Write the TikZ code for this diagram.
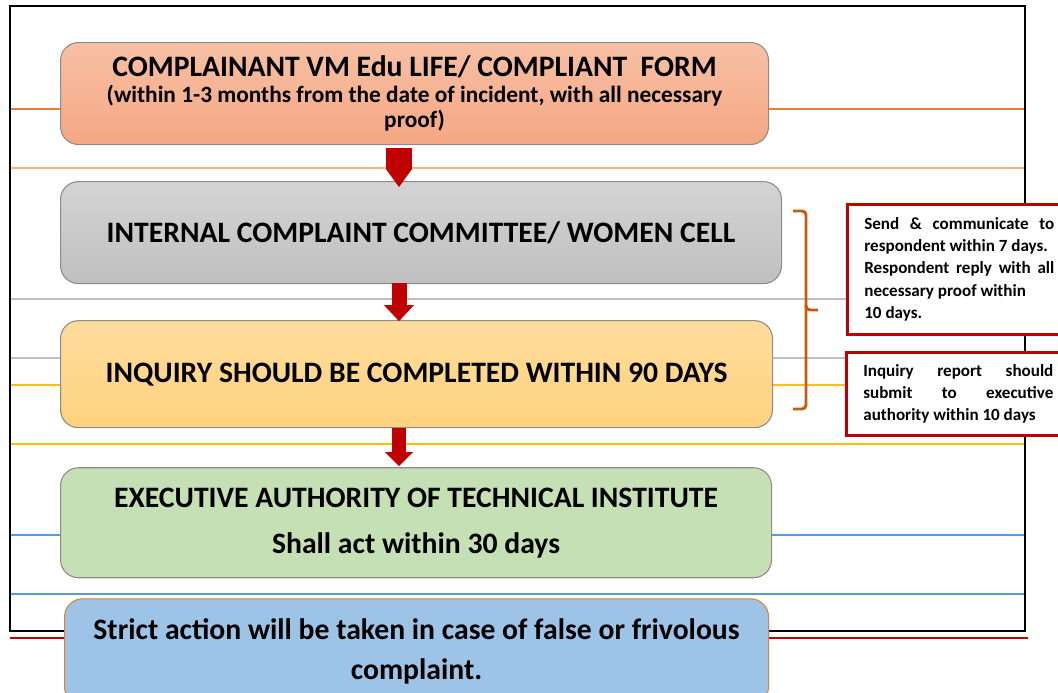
\documentclass[tikz,border=0pt]{standalone}
\usepackage{fontspec}
\setmainfont{Carlito}
\usetikzlibrary{positioning}
\usetikzlibrary{arrows.meta}
\usetikzlibrary{calc}

\definecolor{arrowred}{HTML}{C00000}
\definecolor{boxgray}{HTML}{8C8C8C}
\definecolor{bracecol}{HTML}{C55A11}
\definecolor{orangeline}{HTML}{ED7D31}
\definecolor{peachline}{HTML}{F4B183}
\definecolor{grayline}{HTML}{BFBFBF}
\definecolor{yellowline}{HTML}{FFC000}
\definecolor{blueline}{HTML}{5B9BD5}
\definecolor{peachtop}{RGB}{247,192,164}
\definecolor{peachbot}{RGB}{244,167,131}
\definecolor{sandtop}{RGB}{255,220,156}
\definecolor{sandbot}{RGB}{255,210,126}

\tikzset{
  flowbox/.style={draw=boxgray, line width=0.8pt, rounded corners=13.5pt, inner sep=0pt,
    align=flush center, font=\bfseries\fontsize{22.25}{34.5}\selectfont},
  notebox/.style={draw=arrowred, line width=2pt, fill=white, inner xsep=12.75pt, inner ysep=0pt,
    text width=142.5pt, align=flush left, anchor=north west,
    font=\bfseries\fontsize{12.8}{16.7}\selectfont},
  flowarrow/.style n args={3}{draw=arrowred, line width=#1,
    -{Triangle[width=#2, length=#3, line width=0pt]}},
  bracket/.style={draw=bracecol, line width=2.2pt, rounded corners=3pt},
}

\begin{document}
\begin{tikzpicture}[x=0.75pt, y=-0.75pt]
  \clip (0,0) rectangle (1058,693);
  \fill[white] (0,0) rectangle (1058,693);

  % guide lines behind the boxes
  \foreach \y/\c in {109/orangeline, 168/peachline, 299/grayline, 358/grayline,
                     385/yellowline, 444/yellowline, 535/blueline, 594/blueline}
    \draw[\c, line width=0.9pt] (10,\y) -- (1025,\y);
  \draw[line width=1.9pt] (10,6) rectangle (1025,631);
  \draw[arrowred, line width=1.3pt] (10,638) -- (1028,638);

  % flow
  \node[flowbox, anchor=north west, minimum width=531pt, minimum height=76.5pt, text width=531pt,
        top color=peachtop, bottom color=peachbot] (c1) at (60,42)
    {{\fontsize{22.25}{26}\selectfont COMPLAINANT VM Edu LIFE/ COMPLIANT~ FORM\par}
     {\fontsize{17.5}{19}\selectfont (within 1-3 months from the date of incident, with all necessary\\ proof)\par}};
  \node[flowbox, below=27pt of c1.south west, anchor=north west, minimum width=540.75pt,
        minimum height=76.5pt, text width=540.75pt,
        top color=black!17, bottom color=black!25] (c2)
    {INTERNAL COMPLAINT COMMITTEE/ WOMEN CELL};
  \node[flowbox, below=27pt of c2.south west, anchor=north west, minimum width=534pt,
        minimum height=80.25pt, text width=534pt,
        top color=sandtop, bottom color=sandbot] (c3)
    {INQUIRY SHOULD BE COMPLETED WITHIN 90 DAYS};
  \node[flowbox, below=29.25pt of c3.south west, anchor=north west, minimum width=533.25pt,
        minimum height=82.5pt, text width=533.25pt, fill={rgb,255:red,197;green,224;blue,180}] (c4)
    {EXECUTIVE AUTHORITY OF TECHNICAL INSTITUTE\\ Shall act within 30 days};
  \node[flowbox, draw=orangeline, below=15pt of c4.south west, xshift=3pt, anchor=north west,
        minimum width=528pt, minimum height=79.5pt, text width=528pt,
        fill={rgb,255:red,157;green,195;blue,230}, font=\bfseries\fontsize{22.25}{30}\selectfont] (c5)
    {Strict action will be taken in case of false or frivolous\\ complaint.};

  \coordinate (ax) at (399,0);
  \draw[flowarrow={19.5pt}{19.5pt}{13.5pt}] ($(c1.south -| ax)+(0,3)$) -- ($(c2.north -| ax)+(0,6)$);
  \draw[flowarrow={11.25pt}{22.5pt}{12pt}] ($(c2.south -| ax)+(0,-1)$) -- ($(c3.north -| ax)+(0,1)$);
  \draw[flowarrow={10.5pt}{21pt}{10.5pt}] (c3.south -| ax) -- ($(c4.north -| ax)+(0,-1)$);

  % side notes
  \draw[bracket] (793,211) -| (806,310) -- (818,310);
  \draw[bracket] (806,305) |- (793,409);
  \node[notebox, minimum height=97.5pt] (n1) at (846,203)
    {\hbox to \hsize{Send\hfill\&\hfill communicate\hfill to}
     respondent within 7 days.\\
     \hbox to \hsize{Respondent\hfill reply\hfill with\hfill all}
     necessary proof within\\
     10 days.};
  \node[notebox, minimum height=62.25pt] (n2) at (845,351)
    {\hbox to \hsize{Inquiry\hfill report\hfill should}
     \hbox to \hsize{submit\hfill to\hfill executive}
     authority within 10 days};
\end{tikzpicture}
\end{document}
